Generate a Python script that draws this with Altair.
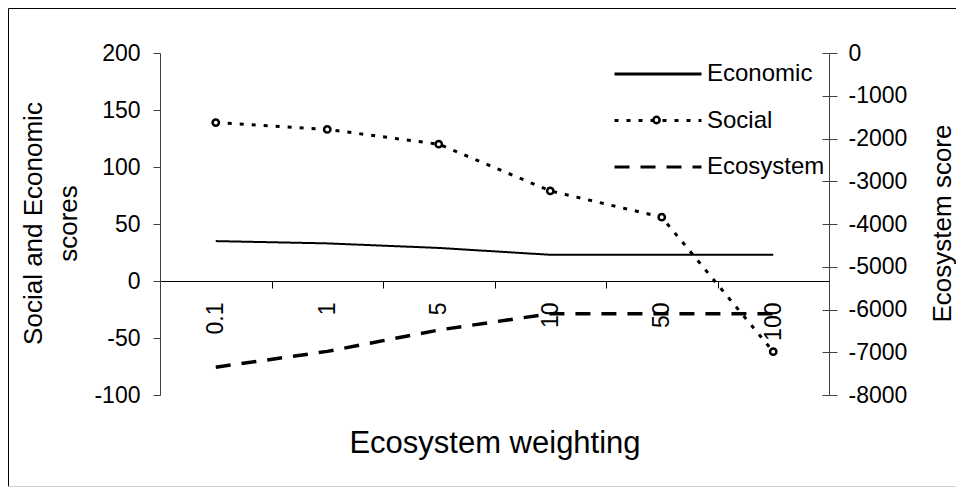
import altair as alt
import pandas as pd

categories = ["0.1", "1", "5", "10", "50", "100"]
economic = [35, 33, 29, 23, 23, 23]
social = [139, 133, 120, 79, 56, -62]
ecosystem = [-7350, -6980, -6480, -6100, -6100, -6100]
series_names = ["Economic", "Social", "Ecosystem"]
left_ticks = [-100, -50, 0, 50, 100, 150, 200]
right_ticks = [-8000, -7000, -6000, -5000, -4000, -3000, -2000, -1000, 0]

FONT = "Liberation Sans"
AX = "#404040"
LBL = "datum.value + ''"

econ_df = pd.DataFrame({"weight": categories, "series": "Economic", "score": economic})
soc_df = pd.DataFrame({"weight": categories, "series": "Social", "score": social})
eco_df = pd.DataFrame({"weight": categories, "series": "Ecosystem", "eco": ecosystem})

W, H = 669, 342

x_scale = alt.Scale(type="band", paddingInner=0, paddingOuter=0)
x_axis = alt.Axis(
    title="Ecosystem weighting", orient="bottom", offset=-114,
    labelAngle=270, labelAlign="right", labelBaseline="middle",
    labelFontSize=23, labelFont=FONT, labelColor="black", labelPadding=14,
    labelOverlap=False, tickSize=7, tickBand="extent",
    domainColor="black", tickColor="black",
    titleFont=FONT, titleFontSize=31, titleFontWeight="normal", titleColor="black",
    titleX=W / 2, titleY=162, titleBaseline="middle", titleAlign="center",
)
x_enc = alt.X("weight:N", sort=categories, scale=x_scale, axis=x_axis)

left_scale = alt.Scale(domain=[-100, 200], nice=False, zero=False)
left_axis = alt.Axis(
    orient="left", values=left_ticks, title=["Social and Economic", "scores"], labelExpr=LBL,
    titleAngle=270, titleX=-127, titleY=170, titleBaseline="middle", titleAlign="center",
    titleLineHeight=35, titleFontSize=26, titleFont=FONT, titleFontWeight="normal", titleColor="black",
    tickSize=7, labelPadding=13, labelFontSize=23, labelFont=FONT, labelColor="black",
    domainColor=AX, tickColor=AX,
)
right_scale = alt.Scale(domain=[-8000, 0], nice=False, zero=False)
right_axis = alt.Axis(
    orient="right", values=right_ticks, title="Ecosystem score", labelExpr=LBL,
    titleAngle=270, titleX=113, titleY=170, titleBaseline="middle", titleAlign="center",
    titleFontSize=26, titleFont=FONT, titleFontWeight="normal", titleColor="black",
    tickSize=8, labelPadding=11, labelFontSize=23, labelFont=FONT, labelColor="black",
    domainColor=AX, tickColor=AX,
)
cross_axis = alt.Axis(
    orient="left", offset=-W, values=right_ticks, title=None, labels=False,
    domain=False, tickSize=7, tickColor=AX,
)

dash_scale = alt.Scale(domain=series_names, range=[[1, 0], [4, 8], [15, 11]])
legend = alt.Legend(
    title=None, orient="none", legendX=453, legendY=6, direction="vertical",
    symbolType="stroke", symbolSize=87 * 87, symbolStrokeColor="black",
    symbolStrokeWidth=3, clipHeight=30, rowPadding=16.5, padding=0,
    labelFontSize=24, labelFont=FONT, labelColor="black", labelOffset=4,
    labelBaseline="middle",
)
dash_enc = alt.StrokeDash("series:N", scale=dash_scale, legend=legend)

econ_line = alt.Chart(econ_df).mark_line(color="black", strokeWidth=2).encode(
    x=x_enc, y=alt.Y("score:Q", scale=left_scale, axis=left_axis), strokeDash=dash_enc
)
soc_line = alt.Chart(soc_df).mark_line(color="black", strokeWidth=3).encode(
    x=x_enc, y=alt.Y("score:Q", scale=left_scale, axis=left_axis), strokeDash=dash_enc
)
soc_pts = alt.Chart(soc_df).mark_point(
    shape="circle", filled=True, fill="white", stroke="black", strokeWidth=2.5, size=40, opacity=1
).encode(x=x_enc, y=alt.Y("score:Q", scale=left_scale, axis=left_axis))
left = alt.layer(econ_line, soc_line, soc_pts)

eco_line = alt.Chart(eco_df).mark_line(color="black", strokeWidth=3.5).encode(
    x=x_enc, y=alt.Y("eco:Q", scale=right_scale, axis=right_axis), strokeDash=dash_enc
)
cross = alt.Chart(eco_df).mark_line(opacity=0).encode(
    x=x_enc, y=alt.Y("eco:Q", scale=right_scale, axis=cross_axis)
)

# legend glyph: marker on the "Social" legend entry
deco_df = pd.DataFrame({"k": [0]})
legend_marker = alt.Chart(deco_df).mark_point(
    shape="circle", filled=True, fill="white", stroke="black", strokeWidth=2.5, size=40, opacity=1
).encode(x=alt.value(453 + 43.5), y=alt.value(67))

frame_top = alt.Chart(deco_df).mark_rule(color="black", strokeWidth=1).encode(
    x=alt.value(-151.5), x2=alt.value(820), y=alt.value(-44.5)
)
frame_left = alt.Chart(deco_df).mark_rule(color="black", strokeWidth=1).encode(
    x=alt.value(-151.5), y=alt.value(-44.5), y2=alt.value(433.5)
)
frame_bottom = alt.Chart(deco_df).mark_rule(color="#d0d0d0", strokeWidth=1).encode(
    x=alt.value(-151.5), x2=alt.value(820), y=alt.value(433.5)
)

chart = alt.layer(left, eco_line, cross, legend_marker, frame_top, frame_left, frame_bottom).resolve_scale(
    y="independent"
).properties(
    width=W, height=H,
    autosize=alt.AutoSizeParams(type="none"),
    padding={"left": 152, "top": 45, "right": 127, "bottom": 92},
    background="white",
).configure_view(stroke=None).configure_axis(grid=False)

chart.save("out.html", embed_options={"renderer": "svg", "actions": False})
